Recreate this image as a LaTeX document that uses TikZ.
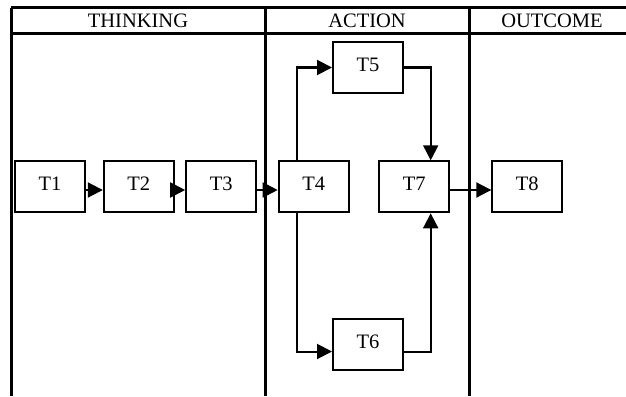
\documentclass[tikz,border=0pt]{standalone}
\usepackage{fontspec}
\setmainfont{Liberation Serif}
\usetikzlibrary{arrows.meta}
\begin{document}
\begin{tikzpicture}[x=1pt,y=-1pt,
  task/.style={draw, line width=2pt, minimum width=70pt, minimum height=51pt,
    inner sep=0pt, text height=8pt, text depth=0pt, font=\fontsize{20.5}{24}\selectfont},
  flow/.style={line width=2pt, -{Triangle[length=15pt,width=15pt]}},
  rule/.style={line width=3pt},
  head/.style={anchor=base, font=\fontsize{20.5}{24}\selectfont}
]
\useasboundingbox (0,0) rectangle (626,396);
% table frame: header row and column dividers
\draw[rule] (11,8) -- (626,8);
\draw[rule] (11,34) -- (626,34);
\draw[rule] (11,8) -- (11,396);
\draw[rule] (265,8) -- (265,396);
\draw[rule] (469,8) -- (469,396);
\node[head] (hthink) at (138,28) {THINKING};
\node[head] (hact) at (367,28) {ACTION};
\node[head] (hout) at (552,28) {OUTCOME};
% tasks
\node[task] (T1) at (50,186.5) {T1};
\node[task] (T2) at (138.8,186.5) {T2};
\node[task] (T3) at (221.2,186.5) {T3};
\node[task] (T4) at (313.7,186.5) {T4};
\node[task] (T5) at (368,67.5) {T5};
\node[task] (T6) at (368,344.5) {T6};
\node[task] (T7) at (414.3,186.8) {T7};
\node[task] (T8) at (527.3,186.5) {T8};
% flow
\draw[flow] ([yshift=-3.5pt]T1.east) -- ([yshift=-3.5pt]T2.west);
\draw[flow] ([yshift=-3.5pt]T2.east) -- ([yshift=-3.5pt]T3.west);
\draw[flow] ([yshift=-3.5pt]T3.east) -- ([yshift=-3.5pt]T4.west);
\draw[flow] ([xshift=-17pt]T4.north) |- (T5.west);
\draw[flow] ([xshift=-17pt]T4.south) |- ([yshift=-7pt]T6.west);
\draw[flow] (T5.east) -| ([xshift=16.4pt]T7.north);
\draw[flow] ([yshift=-7pt]T6.east) -| ([xshift=16.4pt]T7.south);
\draw[flow] ([yshift=-3.2pt]T7.east) -- ([yshift=-3.5pt]T8.west);
\end{tikzpicture}
\end{document}
